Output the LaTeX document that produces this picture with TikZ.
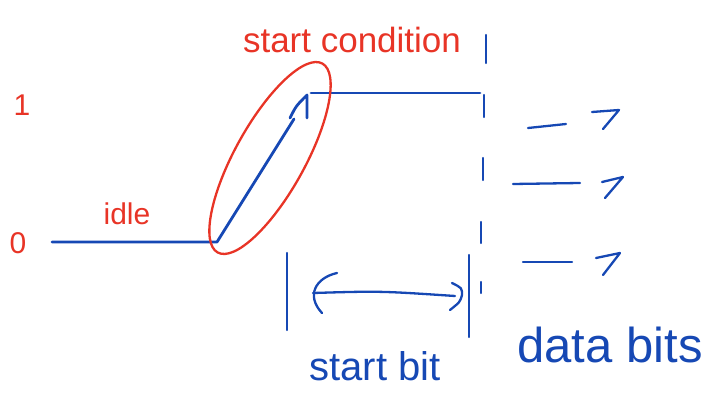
\documentclass[tikz,border=0pt]{standalone}
\usepackage{fontspec}
\setmainfont{Liberation Sans}
\usepackage{tikz}
\usetikzlibrary{positioning}
\usepackage{xcolor}

\definecolor{penblue}{RGB}{22,72,180}
\definecolor{penred}{RGB}{232,52,38}

\begin{document}
\begin{tikzpicture}[x=1pt, y=-1pt,
    blueline/.style={draw=penblue, line width=2.8pt, line cap=round, line join=round},
    redline/.style={draw=penred, line width=2.3pt, line cap=round, line join=round},
    redtext/.style={text=penred, inner sep=0pt, font=\fontsize{30}{30}\selectfont},
    bluetext/.style={text=penblue, inner sep=0pt}]
    \useasboundingbox (0,0) rectangle (706,395);

    % Levels and labels
    \node[redtext] (one) at (22,105) {1};
    \node[redtext] (zero) at (18,243) {0};
    \node[redtext] (idle) at (127,214) {idle};
    \node[redtext, font=\fontsize{35}{35}\selectfont] (cond) at (352,40) {start condition};

    % Line idle low, then rising edge, then high
    \coordinate (lowstart) at (52,242);
    \coordinate (edge) at (217,242);
    \coordinate (tip) at (294,119);
    \coordinate (high) at (311,93);
    \coordinate (highend) at (480,93);
    \draw[blueline] (lowstart) -- (edge) -- (tip);
    \draw[blueline] (290,118) .. controls (296,106) .. (307,95) -- (307,118);
    \draw[blueline] (high) -- (highend);

    % Loop around the start condition
    \draw[redline, rotate around={61:(270,158)}] (270,158) ellipse [x radius=108, y radius=35];

    % Bit boundary (dashed)
    \foreach \ya/\yb/\xx in {35/63/486, 95/117/484, 158/180/483, 222/243/481, 282/293/481}
        \draw[blueline, line width=2.3pt] (\xx,\ya) -- (\xx,\yb);

    % Start bit width
    \draw[blueline, line width=2.3pt] (287,253) -- (287,330);
    \draw[blueline, line width=2.3pt] (469,255) -- (469,337);
    \coordinate (sbl) at (313,293);
    \coordinate (sbr) at (455,296);
    \draw[blueline, line width=2.3pt] (sbl) .. controls (380,291) .. (sbr);
    \draw[blueline, line width=2.3pt] (337,273) .. controls (315,278) and (306,296) .. (322,313);
    \draw[blueline, line width=2.3pt] (452,283) .. controls (462,288) .. (462,295) .. controls (460,302) .. (450,310);
    \node[bluetext, font=\fontsize{40}{40}\selectfont] (startbit) at (375,366) {start bit};

    % Data bits, sketched as dash plus hook
    \foreach \la/\lb/\ha/\hb/\hc in {{(528,128)}/{(566,124)}/{(592,112)}/{(619,110)}/{(603,129)},
                                     {(513,184)}/{(580,183)}/{(602,182)}/{(623,177)}/{(605,198)},
                                     {(523,262)}/{(572,262)}/{(596,258)}/{(620,253)}/{(603,275)}} {
        \draw[blueline, line width=2.3pt] \la -- \lb;
        \draw[blueline, line width=2.3pt] \ha -- \hb -- \hc;
    }
    \node[bluetext, font=\fontsize{49}{49}\selectfont] (databits) at (610,345) {data bits};
\end{tikzpicture}
\end{document}
